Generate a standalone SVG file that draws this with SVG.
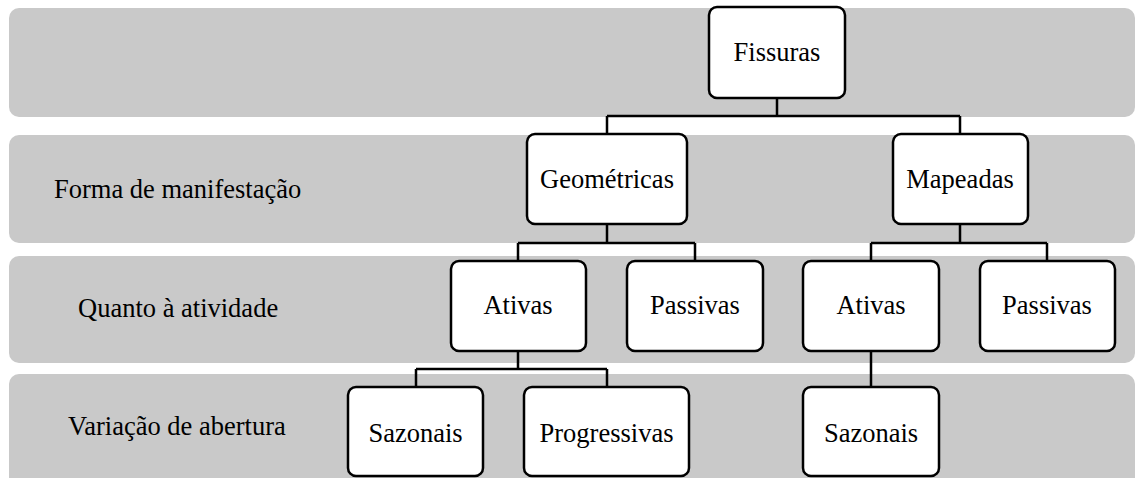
<svg xmlns="http://www.w3.org/2000/svg" width="1136" height="478" viewBox="0 0 1136 478">
<style>
.band{fill:#c9c9c9;}
.node rect{fill:#fff;stroke:#000;stroke-width:2.5;}
text{font-family:"Liberation Serif","Times New Roman",serif;font-size:26.5px;fill:#000;}
.node text{text-anchor:middle;}
.conn path{fill:none;stroke:#000;stroke-width:2.5;}
</style>
<g id="bands">
<rect class="band" x="9" y="8" width="1126" height="109" rx="10"/>
<rect class="band" x="9" y="135" width="1126" height="108" rx="10"/>
<rect class="band" x="9" y="256" width="1126" height="107" rx="10"/>
<rect class="band" x="9" y="374" width="1126" height="114" rx="10"/>
</g>
<g id="labels">
<text x="54" y="198">Forma de manifestação</text>
<text x="78" y="317">Quanto à atividade</text>
<text x="68" y="435">Variação de abertura</text>
</g>
<g class="conn" id="connectors">
<path d="M777,98 V116 M607,116 H960 M607,116 V134 M960,116 V134"/>
<path d="M607,224 V243 M518,243 H695 M518,243 V261 M695,243 V261"/>
<path d="M960,224 V243 M871,243 H1047 M871,243 V261 M1047,243 V261"/>
<path d="M518,351 V369 M416,369 H607 M416,369 V387 M607,369 V387"/>
<path d="M871,351 V387"/>
</g>
<g class="node" id="n-fissuras"><rect x="709" y="7" width="136" height="91" rx="8"/><text x="777" y="61">Fissuras</text></g>
<g class="node" id="n-geometricas"><rect x="527" y="134" width="160" height="90" rx="8"/><text x="607" y="188">Geométricas</text></g>
<g class="node" id="n-mapeadas"><rect x="893" y="134" width="135" height="90" rx="8"/><text x="960" y="188">Mapeadas</text></g>
<g class="node" id="n-ativas1"><rect x="451" y="261" width="135" height="90" rx="8"/><text x="518" y="314">Ativas</text></g>
<g class="node" id="n-passivas1"><rect x="627" y="261" width="136" height="90" rx="8"/><text x="695" y="314">Passivas</text></g>
<g class="node" id="n-ativas2"><rect x="803" y="261" width="136" height="90" rx="8"/><text x="871" y="314">Ativas</text></g>
<g class="node" id="n-passivas2"><rect x="980" y="261" width="135" height="90" rx="8"/><text x="1047" y="314">Passivas</text></g>
<g class="node" id="n-sazonais1"><rect x="348" y="387" width="135" height="89" rx="8"/><text x="415.5" y="442">Sazonais</text></g>
<g class="node" id="n-progressivas"><rect x="524" y="387" width="165" height="89" rx="8"/><text x="606.5" y="442">Progressivas</text></g>
<g class="node" id="n-sazonais2"><rect x="803" y="387" width="136" height="89" rx="8"/><text x="871" y="442">Sazonais</text></g>
</svg>
